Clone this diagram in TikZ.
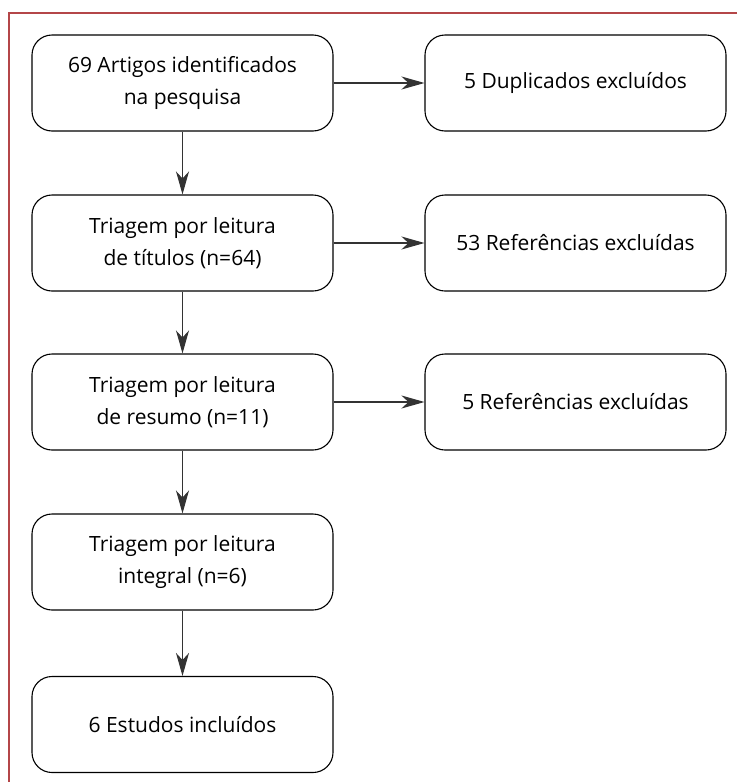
\documentclass[tikz,border=0pt]{standalone}
\usepackage{fontspec}
\setmainfont{Open Sans}
\usetikzlibrary{arrows.meta}
\definecolor{frame}{RGB}{180,70,72}
\begin{document}
\begin{tikzpicture}[x=1pt,y=-1pt,
  box/.style={draw, line width=1.1pt, rounded corners=20pt, minimum width=301pt, minimum height=96pt, align=center, font=\fontsize{21}{32}\selectfont, inner sep=0pt},
  conn/.style={line width=1.1pt, draw=black!80, -{Stealth[length=23pt,width=13pt,inset=7pt]}}]
\useasboundingbox (0,0) rectangle (737,782);
\draw[frame, line width=1.3pt] (737,13) -- (9,13) -- (9,782);
\node[box] (a) at (182.5,83) {69 Artigos identificados\\na pesquisa};
\node[box] (b) at (182.5,243) {Triagem por leitura\\de títulos (n=64)};
\node[box] (c) at (182.5,402) {Triagem por leitura\\de resumo (n=11)};
\node[box] (d) at (182.5,562) {Triagem por leitura\\integral (n=6)};
\node[box] (e) at (182.5,724.5) {6 Estudos incluídos};
\node[box] (ra) at (575.5,83) {5 Duplicados excluídos};
\node[box] (rb) at (575.5,243) {53 Referências excluídas};
\node[box] (rc) at (575.5,402) {5 Referências excluídas};
\draw[conn] (a) -- (b);
\draw[conn] (b) -- (c);
\draw[conn] (c) -- (d);
\draw[conn] (d) -- (e);
\draw[conn] (a) -- (ra);
\draw[conn] (b) -- (rb);
\draw[conn] (c) -- (rc);
\end{tikzpicture}
\end{document}
